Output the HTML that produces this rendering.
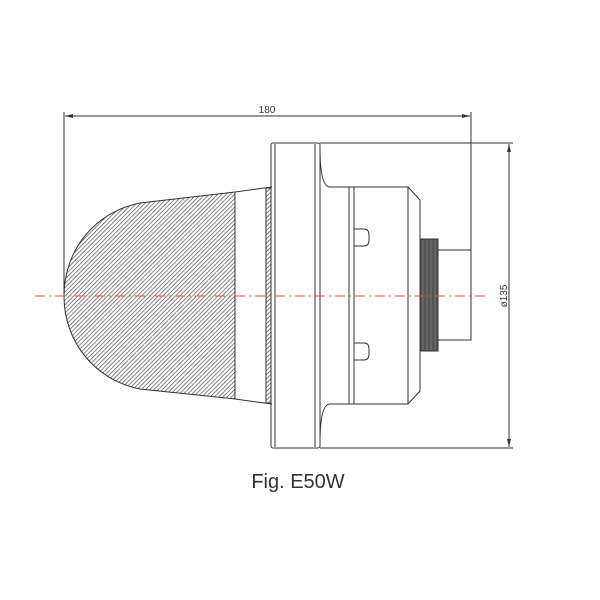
<!DOCTYPE html>
<html><head><style>html,body{margin:0;padding:0;background:#fff}svg{display:block}</style></head>
<body>
<svg width="600" height="600" viewBox="0 0 600 600" xmlns="http://www.w3.org/2000/svg" font-family="Liberation Sans, sans-serif">
<defs>
<pattern id="h" width="3" height="3" patternUnits="userSpaceOnUse" patternTransform="rotate(45)">
<line x1="0" y1="0" x2="0" y2="3" stroke="#444" stroke-width="1.3"/>
</pattern>
<marker id="a" markerWidth="8" markerHeight="6" refX="8" refY="3" orient="auto-start-reverse" markerUnits="userSpaceOnUse">
<path d="M0,1 L8,3 L0,5 z" fill="#333"/></marker>
</defs>
<g fill="none" stroke="#333" stroke-width="1">
<line x1="64" y1="112" x2="64" y2="296"/>
<line x1="471" y1="112" x2="471" y2="250"/>
<line x1="65" y1="116" x2="470" y2="116" marker-start="url(#a)" marker-end="url(#a)"/>
<line x1="320" y1="143" x2="513" y2="143"/>
<line x1="320" y1="448" x2="513" y2="448"/>
<line x1="509" y1="144" x2="509" y2="447" marker-start="url(#a)" marker-end="url(#a)"/>
<path d="M235,192 L140,203 C95,212 64,250 64,296 C64,342 95,380 140,389 L235,399 Z" fill="url(#h)"/>
<path d="M235,192 L272,187 M235,399 L272,404"/>
<line x1="235" y1="192" x2="235" y2="399"/>
<rect x="266" y="188" width="5" height="215" fill="url(#h)"/>
<rect x="271" y="143" width="49" height="305" rx="2"/>
<line x1="275" y1="144" x2="275" y2="447"/>
<line x1="315" y1="144" x2="315" y2="447"/>
<path d="M320,148 Q320,187 330,187 L408,187 L420,200 L420,391 L408,404 L330,404 Q320,404 320,443"/>
<line x1="349" y1="187" x2="349" y2="404"/>
<line x1="354" y1="187" x2="354" y2="404"/>
<line x1="408" y1="187" x2="408" y2="404"/>
<path d="M354,229 L364,229 Q369,229 369,235 L369,240 Q369,246 364,246 L354,246"/>
<path d="M354,343 L364,343 Q369,343 369,349 L369,354 Q369,360 364,360 L354,360"/>
<rect x="420" y="239" width="18" height="112" fill="#555"/>
<rect x="438" y="250" width="33" height="90" fill="#fff"/>
</g>
<g stroke="#888" stroke-width="0.6">
<line x1="423" y1="240" x2="423" y2="350"/><line x1="427" y1="240" x2="427" y2="350"/><line x1="431" y1="240" x2="431" y2="350"/><line x1="435" y1="240" x2="435" y2="350"/>
</g>
<line x1="35" y1="296" x2="486" y2="296" stroke="#e05050" stroke-width="1" stroke-dasharray="10,4,2,4"/>
<text x="267" y="113" font-size="10" fill="#333" text-anchor="middle">180</text>
<text transform="translate(507,296) rotate(-90)" font-size="10" fill="#333" text-anchor="middle">ø135</text>
<text x="298" y="488" font-size="20" fill="#333" text-anchor="middle">Fig. E50W</text>
</svg>
</body></html>
